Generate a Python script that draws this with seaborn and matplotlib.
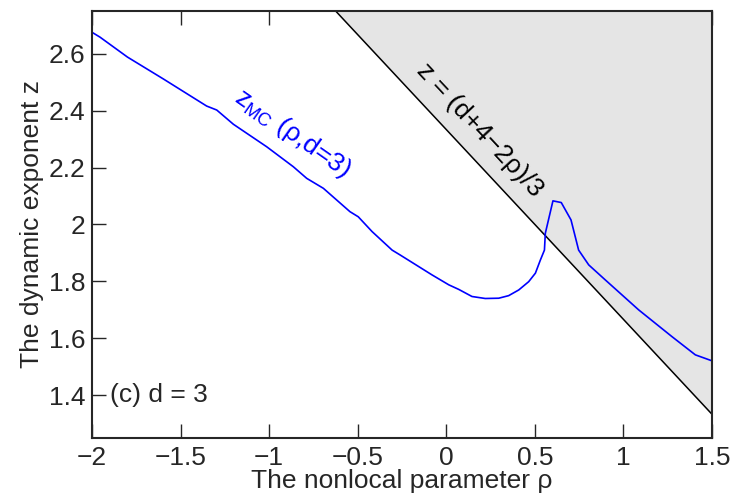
import numpy as np
import pandas as pd
import matplotlib
matplotlib.use("Agg")
import matplotlib.pyplot as plt
import seaborn as sns
from matplotlib.ticker import FuncFormatter

# Monte Carlo curve z_MC(rho, d=3)
rho_mc = [-2.0, -1.955, -1.80, -1.597, -1.353, -1.296, -1.202, -1.014, -0.864, -0.788,
          -0.694, -0.544, -0.497, -0.419, -0.306, -0.261, -0.081, 0.014, 0.070, 0.145,
          0.220, 0.296, 0.352, 0.409, 0.465, 0.503, 0.531, 0.554, 0.559, 0.602, 0.649,
          0.704, 0.747, 0.804, 0.898, 1.086, 1.274, 1.406, 1.5]
z_mc = [2.675, 2.658, 2.588, 2.511, 2.416, 2.402, 2.352, 2.273, 2.203, 2.162,
        2.127, 2.045, 2.027, 1.975, 1.910, 1.893, 1.823, 1.788, 1.772, 1.747,
        1.740, 1.741, 1.750, 1.770, 1.799, 1.829, 1.875, 1.910, 1.969, 2.083, 2.077,
        2.016, 1.910, 1.858, 1.805, 1.700, 1.606, 1.542, 1.521]

# Bound z = (d + 4 - 2 rho)/3 with d = 3
d = 3
rho_bound = [-2.0, 1.5]
z_bound = [(d + 4 - 2 * r) / 3 for r in rho_bound]

x_ticks = [-2, -1.5, -1, -0.5, 0, 0.5, 1, 1.5]
y_ticks = [1.4, 1.6, 1.8, 2.0, 2.2, 2.4, 2.6]

sns.set_style("ticks")
plt.rcParams['font.family'] = ['Liberation Sans', 'DejaVu Sans']
plt.rcParams['axes.unicode_minus'] = True
FS = 19

fig = plt.figure(figsize=(7.44, 4.98), dpi=100)
ax = fig.add_axes([0.1237, 0.1205, 0.957 - 0.1237, 0.978 - 0.1205])
ax.set_axisbelow(True)

xs = np.linspace(rho_bound[0], rho_bound[1], 200)
zb = (d + 4 - 2 * xs) / 3
ax.fill_between(xs, zb, 2.75, color="#e5e5e5", linewidth=0, zorder=1)

df_b = pd.DataFrame({"rho": rho_bound, "z": z_bound})
sns.lineplot(data=df_b, x="rho", y="z", color="black", linewidth=1.1, ax=ax, zorder=3)
df = pd.DataFrame({"rho": rho_mc, "z": z_mc})
sns.lineplot(data=df, x="rho", y="z", color="#0000ff", linewidth=1.2, ax=ax,
             zorder=4, sort=False, estimator=None)

ax.set_xlim(-2, 1.5)
ax.set_ylim(1.25, 2.75)
ax.set_xticks(x_ticks)
ax.set_yticks(y_ticks)
fmt = FuncFormatter(lambda v, p: ("%g" % v).replace("-", "\u2212"))
ax.xaxis.set_major_formatter(fmt)
ax.yaxis.set_major_formatter(fmt)
ax.tick_params(direction="in", length=10, width=1, labelsize=FS, top=True,
               right=False, pad=6)
ax.tick_params(axis="y", pad=5)
for s in ax.spines.values():
    s.set_linewidth(1.5)
    s.set_visible(True)
    s.set_zorder(5)

ax.set_xlabel("The nonlocal parameter \u03c1", fontsize=FS, labelpad=-1)
ax.set_ylabel("The dynamic exponent z", fontsize=FS, labelpad=3)

ax.text(-0.87, 2.32, r"z$_{\mathregular{MC}}$ ($\mathregular{\rho}$,d=3)", color="#0000ff",
        fontsize=FS, rotation=-35, ha="center", va="center", rotation_mode="anchor")
ax.text(0.19, 2.33, "z = (d+4\u22122\u03c1)/3", color="black", fontsize=FS,
        rotation=-47, ha="center", va="center", rotation_mode="anchor")
ax.text(-1.9, 1.4, "(c) d = 3", fontsize=FS, ha="left", va="center")

fig.savefig("out.png", dpi=100)
